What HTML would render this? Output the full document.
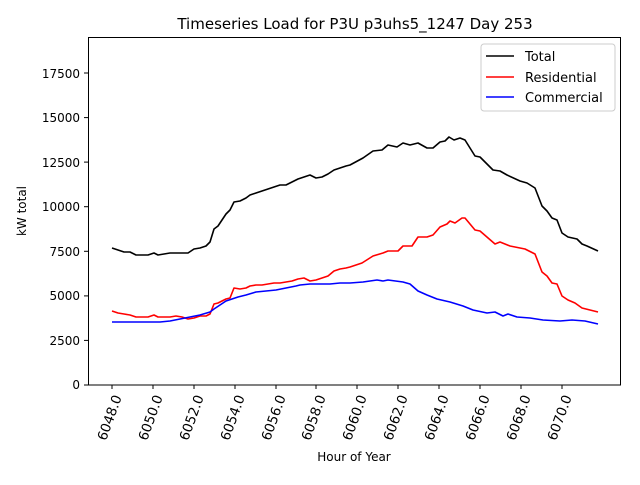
<!DOCTYPE html><html><head><style>body{margin:0;background:#fff}</style></head><body>
<svg width="640" height="480" xmlns="http://www.w3.org/2000/svg" font-family="DejaVu Sans, Liberation Sans, sans-serif">
<rect width="640" height="480" fill="#fff"/>
<text x="355" y="29" font-size="15" text-anchor="middle">Timeseries Load for P3U p3uhs5_1247  Day 253</text>
<g font-size="12" text-anchor="end">
<text x="80" y="389">0</text><text x="80" y="345">2500</text><text x="80" y="300">5000</text><text x="80" y="256">7500</text><text x="80" y="211">10000</text><text x="80" y="167">12500</text><text x="80" y="122">15000</text><text x="80" y="78">17500</text>
</g>
<g stroke="#000"><line x1="84" y1="385" x2="88" y2="385"/><line x1="84" y1="340.4" x2="88" y2="340.4"/><line x1="84" y1="295.9" x2="88" y2="295.9"/><line x1="84" y1="251.3" x2="88" y2="251.3"/><line x1="84" y1="206.7" x2="88" y2="206.7"/><line x1="84" y1="162.1" x2="88" y2="162.1"/><line x1="84" y1="117.6" x2="88" y2="117.6"/><line x1="84" y1="73" x2="88" y2="73"/></g>
<text x="26" y="211" font-size="12" text-anchor="middle" transform="rotate(-90 26 211)">kW total</text>
<g font-size="13.5" text-anchor="end">
<text transform="translate(122,397) rotate(-70)">6048.0</text>
<text transform="translate(163,397) rotate(-70)">6050.0</text>
<text transform="translate(204,397) rotate(-70)">6052.0</text>
<text transform="translate(245,397) rotate(-70)">6054.0</text>
<text transform="translate(286,397) rotate(-70)">6056.0</text>
<text transform="translate(326,397) rotate(-70)">6058.0</text>
<text transform="translate(367,397) rotate(-70)">6060.0</text>
<text transform="translate(408,397) rotate(-70)">6062.0</text>
<text transform="translate(449,397) rotate(-70)">6064.0</text>
<text transform="translate(490,397) rotate(-70)">6066.0</text>
<text transform="translate(531,397) rotate(-70)">6068.0</text>
<text transform="translate(572,397) rotate(-70)">6070.0</text>
</g>
<g stroke="#000"><line x1="112" y1="385" x2="112" y2="389"/><line x1="153" y1="385" x2="153" y2="389"/><line x1="194" y1="385" x2="194" y2="389"/><line x1="235" y1="385" x2="235" y2="389"/><line x1="276" y1="385" x2="276" y2="389"/><line x1="316" y1="385" x2="316" y2="389"/><line x1="357" y1="385" x2="357" y2="389"/><line x1="398" y1="385" x2="398" y2="389"/><line x1="439" y1="385" x2="439" y2="389"/><line x1="480" y1="385" x2="480" y2="389"/><line x1="521" y1="385" x2="521" y2="389"/><line x1="562" y1="385" x2="562" y2="389"/></g>
<text x="354" y="461" font-size="12" text-anchor="middle">Hour of Year</text>
<g fill="none" stroke-width="1.6" stroke-linejoin="round">
<polyline stroke="#000" points="112,248 118,250 124,252 130,252 136,255 142,255 148,255 154,253 158,255 164,254 170,253 176,253 182,253 188,253 194,249 200,248 206,246 210,242 214,229 218,226 222,220 226,214 230,210 234,202 240,201 246,198 250,195 256,193 262,191 268,189 274,187 280,185 286,185 292,182 298,179 304,177 310,175 316,178 322,177 328,174 334,170 340,168 346,166 350,165 363,158 373,151 382,150 388,145 397,147 403,143 410,145 418,143 427,148 433,148 440,142 445,141 449,137 454,140 460,138 465,140 475,156 480,157 493,170 500,171 507,175 520,181 527,183 535,188 542,206 547,211 552,218 557,220 562,233 568,237 577,239 582,244 587,246 598,251"/>
<polyline stroke="#f00" points="112,311 118,313 124,314 130,315 136,317 142,317 148,317 154,315 158,317 164,317 170,317 176,316 182,317 188,319 194,318 200,316 206,316 210,314 214,304 218,303 222,301 226,299 230,298 234,288 240,289 246,288 250,286 256,285 262,285 268,284 274,283 280,283 286,282 292,281 298,279 304,278 310,281 316,280 322,278 328,276 334,271 340,269 346,268 350,267 362,263 373,256 383,253 388,251 398,251 403,246 412,246 418,237 427,237 433,235 440,227 447,224 450,221 455,223 462,218 465,218 475,230 480,231 495,244 500,242 510,246 525,249 535,254 542,272 547,276 552,283 557,284 562,296 568,300 575,303 582,308 598,312"/>
<polyline stroke="#00f" points="112,322 130,322 160,322 170,321 180,319 190,317 200,315 210,312 214,309 220,305 226,301 232,299 238,297 246,295 256,292 266,291 276,290 286,288 296,286 300,285 310,284 320,284 330,284 340,283 350,283 363,282 377,280 383,281 388,280 403,282 410,284 418,291 427,295 437,299 450,302 463,306 473,310 487,313 495,312 503,316 508,314 517,317 530,318 543,320 560,321 572,320 585,321 598,324"/>
</g>
<rect x="88.5" y="37.5" width="532" height="347.5" fill="none" stroke="#000" stroke-width="1"/>
<rect x="481" y="44" width="134" height="67" rx="3" fill="#fff" fill-opacity="0.8" stroke="#ccc"/>
<g stroke-width="1.6"><line x1="486" y1="56" x2="514" y2="56" stroke="#000"/><line x1="486" y1="77" x2="514" y2="77" stroke="#f00"/><line x1="486" y1="97" x2="514" y2="97" stroke="#00f"/></g>
<g font-size="13"><text x="525" y="61">Total</text><text x="525" y="82">Residential</text><text x="525" y="102">Commercial</text></g>
</svg></body></html>
